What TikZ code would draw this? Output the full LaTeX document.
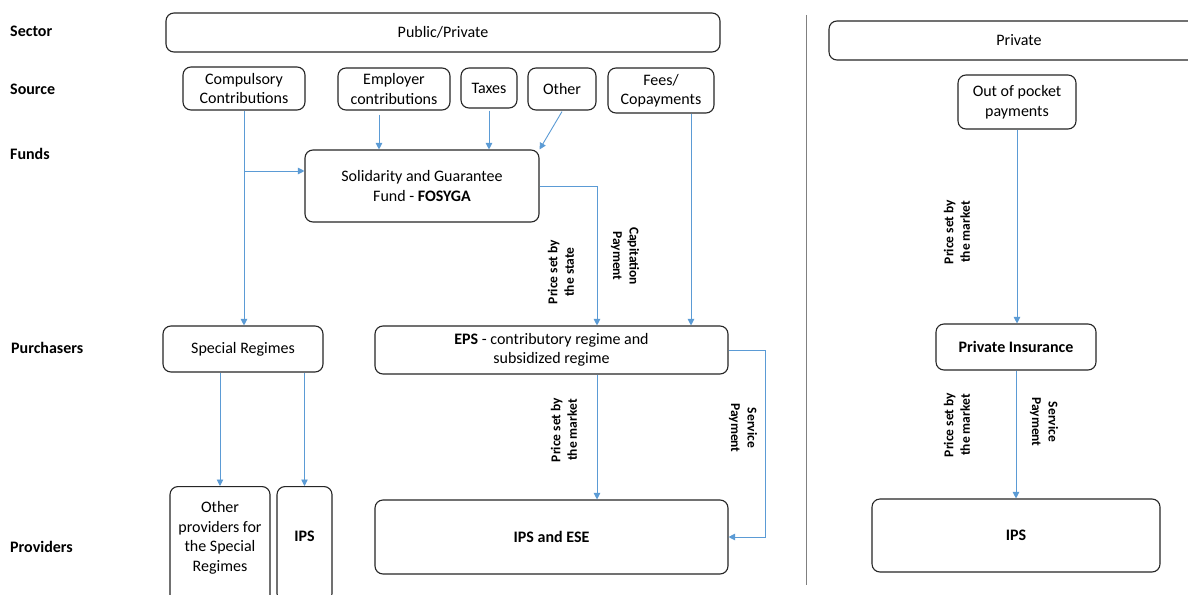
\documentclass[tikz,border=0pt]{standalone}
\usepackage{fontspec}
\setmainfont{Carlito}
\usetikzlibrary{arrows.meta}
\definecolor{arrc}{RGB}{91,155,213}
\definecolor{boxc}{RGB}{38,38,38}
\definecolor{sepc}{RGB}{128,128,128}
\newcommand{\myfs}{\fontsize{16}{19.5}\selectfont}
\newcommand{\myfsr}{\fontsize{13.5}{16.5}\selectfont}
\newcommand{\myfsl}{\fontsize{16}{19}\selectfont}
\tikzset{
  box/.style={draw=boxc, line width=1.1pt, rounded corners=8pt, fill=white, align=center, inner sep=2pt, font=\myfs},
  arr/.style={draw=arrc, line width=0.9pt, -{Triangle[length=6.5pt,width=6.5pt]}},
  lbl/.style={font=\bfseries\myfsl, anchor=west, inner sep=0pt},
  rot/.style={font=\bfseries\myfsr, align=center, inner sep=0pt},
}
\begin{document}
\begin{tikzpicture}[x=1pt,y=-1pt]
\useasboundingbox (0,0) rectangle (1188,594);
\clip (0,0) rectangle (1188,594);
\fill[white] (0,0) rectangle (1188,594);

% row labels
\node[lbl] (lsec) at (10,31) {Sector};
\node[lbl] (lsrc) at (10,89) {Source};
\node[lbl] (lfun) at (10,154) {Funds};
\node[lbl] (lpur) at (11,348) {Purchasers};
\node[lbl] (lpro) at (10,547) {Providers};

% separator
\draw[sepc, line width=1pt] (806,15) -- (806,585);

% boxes
\node[box, minimum width=554pt, minimum height=39pt] (pub) at (443,32.5) {Public/Private};
\node[box, minimum width=380pt, minimum height=39pt] (pri) at (1019,40.5) {Private};
\node[box, minimum width=122pt, minimum height=43pt] (comp) at (244,88.5) {Compulsory\\Contributions};
\node[box, minimum width=112pt, minimum height=42pt] (emp) at (394,89) {Employer\\contributions};
\node[box, minimum width=56pt, minimum height=40pt] (tax) at (489,88) {Taxes};
\node[box, minimum width=68pt, minimum height=42pt] (oth) at (562,89) {Other};
\node[box, minimum width=106pt, minimum height=45pt] (fees) at (661,90.5) {Fees/\\Copayments};
\node[box, minimum width=118pt, minimum height=54pt] (oop) at (1017,102) {Out of pocket\\payments};
\node[box, minimum width=234pt, minimum height=72pt] (fos) at (422,186) {Solidarity and Guarantee\\Fund - \textbf{FOSYGA}};
\node[box, minimum width=160pt, minimum height=46pt] (spec) at (243,349) {Special Regimes};
\node[box, minimum width=353pt, minimum height=48pt] (eps) at (551.5,350) {\textbf{EPS} - contributory regime and\\subsidized regime};
\node[box, minimum width=160pt, minimum height=46pt] (pins) at (1016,347) {\textbf{Private Insurance}};
\node[box, minimum width=100pt, inner sep=0pt, anchor=north] (othp) at (220,486) {\rule{0pt}{26pt}Other\\providers for\\the Special\\Regimes\rule[-40pt]{0pt}{40pt}};
\node[box, minimum width=55pt, inner sep=0pt, anchor=north] (ipss) at (304.5,486) {\rule[-60pt]{0pt}{115pt}\textbf{IPS}};
\node[box, minimum width=353pt, minimum height=74pt] (ipse) at (551.5,537) {\textbf{IPS and ESE}};
\node[box, minimum width=288pt, minimum height=73pt] (ipsr) at (1016,535.5) {\textbf{IPS}};

% rotated labels
\node[rot, rotate=90] (t1) at (561,272) {Price set by\\the state};
\node[rot, rotate=-90] (t2) at (625,256) {Capitation\\Payment};
\node[rot, rotate=90] (t3) at (564,430) {Price set by\\the market};
\node[rot, rotate=-90] (t4) at (743,428) {Service\\Payment};
\node[rot, rotate=90] (t5) at (957,232) {Price set by\\the market};
\node[rot, rotate=90] (t6) at (957,425) {Price set by\\the market};
\node[rot, rotate=-90] (t7) at (1044,422) {Service\\Payment};

% connectors
\coordinate (fin) at ([yshift=15pt]fos.west);
\draw[arr] (comp.south) -- (comp.south |- spec.north);
\draw[arr] (comp.south |- fin) -- (fin);
\draw[arr] ([xshift=-15pt,yshift=-4pt]emp.south) -- ([xshift=-15pt]emp.south |- fos.north);
\draw[arr] ([yshift=-2pt]tax.south) -- (tax.south |- fos.north);
\draw[arr] ([yshift=-1pt]oth.south) -- (fos.north east);
\draw[arr] (fos.east) -| ([xshift=45.5pt]eps.north);
\draw[arr] ([xshift=30pt]fees.south) -- ([xshift=30pt]fees.south |- eps.north);
\draw[arr] ([xshift=45.5pt]eps.south) -- ([xshift=45.5pt]ipse.north);
\draw[arr] (eps.east) -- ++(37,0) |- (ipse.east);
\draw[arr] (othp.north |- spec.south) -- (othp.north);
\draw[arr] (ipss.north |- spec.south) -- (ipss.north);
\draw[arr] (oop.south) -- (oop.south |- pins.north);
\draw[arr] (pins.south) -- (pins.south |- ipsr.north);
\end{tikzpicture}
\end{document}
